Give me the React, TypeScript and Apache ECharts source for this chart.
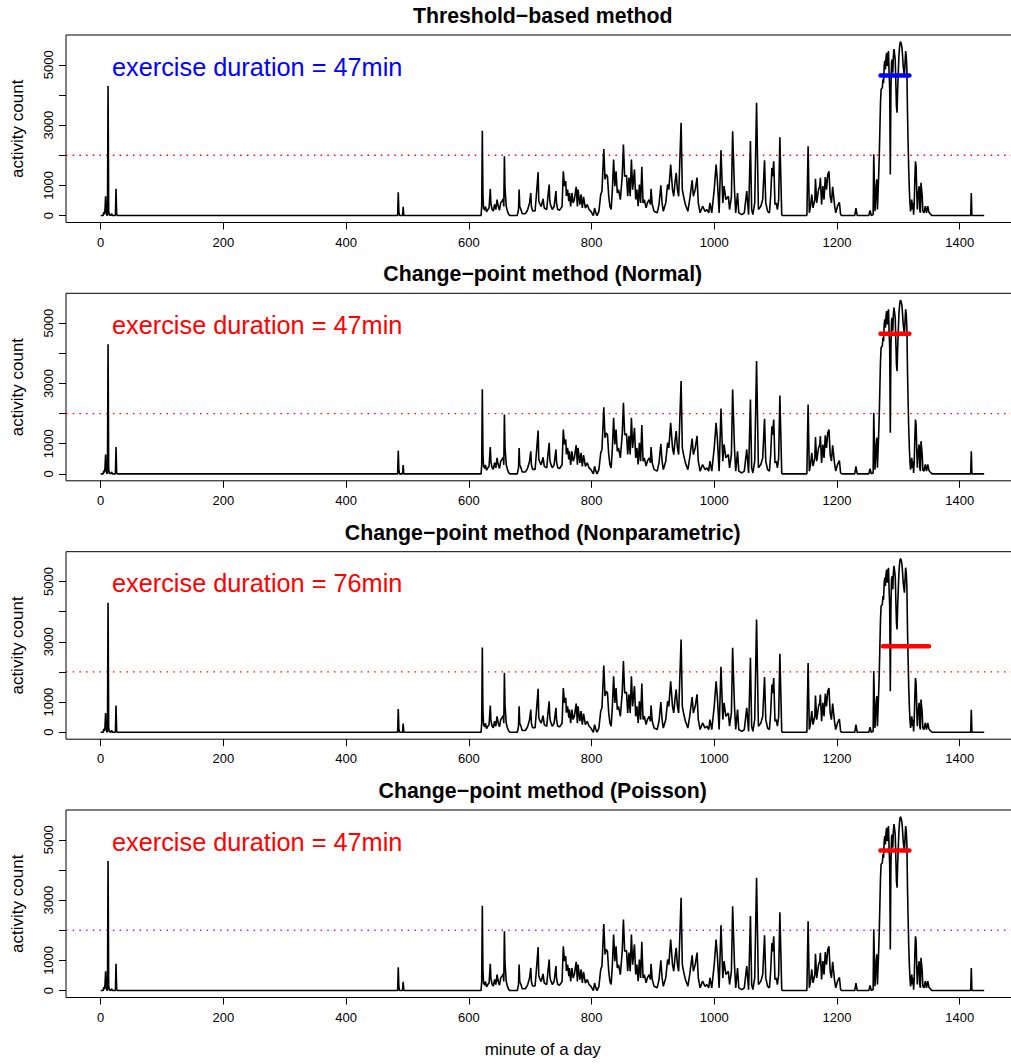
import React, { useEffect, useRef } from "react";
import * as echarts from "echarts";

// ---- data ----
const activityPoints: [number, number][] = [
  [0,0],[4,0],[5,110],[6,40],[7,200],[8,640],[9,90],[10,20],[11,0],[12,4300],[13,150],[14,30],[16,0],[18,60],[19,0],[24,0],[25,890],[26,50],[27,0],
  [484,0],[485,770],[486,120],[487,0],[492,0],[493,290],[494,0],
  [620,0],[621,300],[622,2810],[623,700],[624,250],[626,180],[627,300],[629,120],[631,200],[633,250],[635,890],[636,400],[638,200],[640,150],[642,370],[644,200],[646,530],[648,300],[650,180],[652,420],[654,480],[656,550],[657,300],[658,1970],[659,900],[661,300],[663,140],[665,40],[667,0],
  [679,0],[681,200],[682,860],[683,300],[685,200],[687,60],[692,60],[695,150],[696,200],[699,420],[701,750],[702,300],[704,150],[708,150],[710,650],[713,1440],[714,500],[715,420],[718,300],[721,550],[723,250],[727,200],[729,650],[731,1030],[732,500],[733,365],[736,200],[739,300],[742,810],[743,400],[745,200],[748,180],[752,300],[754,1470],[756,975],[758,1140],[759,650],[761,860],[763,480],[764,750],[766,300],[768,750],[770,420],[772,530],[775,950],[777,300],[778,860],[781,365],[783,700],[785,250],[787,620],[790,250],[793,365],[796,200],[799,140],[803,0],[805,250],[807,90],[809,0],[812,140],[815,700],[817,810],[820,2210],[822,1200],[824,1360],[826,1300],[828,650],[830,300],[832,200],[834,860],[836,1860],[838,975],[840,1470],[842,750],[844,860],[845,750],[847,530],[850,1300],[852,2360],[854,1300],[857,1330],[859,640],[861,1260],[863,640],[865,1860],[867,860],[870,1530],[872,530],[874,860],[876,310],[878,1030],[880,420],[882,1620],[884,420],[886,530],[889,255],[891,420],[894,530],[896,365],[897,890],[899,365],[902,140],[907,90],[910,365],[913,1000],[915,420],[917,140],[921,420],[924,1030],[926,860],[929,1690],[932,860],[934,640],[936,1085],[938,1420],[940,860],[942,640],[946,3080],[948,860],[950,640],[953,365],[957,140],[960,530],[964,1170],[966,640],[969,860],[972,1260],[974,420],[977,90],[981,310],[985,140],[988,200],[991,90],[993,420],[996,90],[1000,860],[1003,1690],[1005,1200],[1008,90],[1011,2170],[1014,420],[1016,975],[1019,530],[1023,640],[1025,200],[1028,640],[1030,2800],[1033,860],[1035,90],[1038,750],[1040,90],[1045,30],[1049,90],[1053,810],[1056,30],[1059,2470],[1061,200],[1063,30],[1066,420],[1069,3740],[1072,200],[1076,310],[1079,530],[1082,1830],[1084,420],[1087,140],[1090,90],[1092,640],[1094,1580],[1095,1300],[1097,1800],[1099,365],[1101,420],[1103,200],[1105,530],[1107,2600],[1110,30],[1111,0],
  [1151,0],[1153,2300],[1155,90],[1157,310],[1159,700],[1161,255],[1164,530],[1165,1220],[1167,420],[1170,860],[1172,975],[1173,1250],[1175,365],[1177,975],[1179,530],[1181,1280],[1183,860],[1185,1360],[1187,1470],[1189,640],[1191,420],[1193,950],[1196,365],[1198,90],[1201,310],[1204,440],[1206,30],[1208,0],
  [1229,0],[1231,250],[1233,0],[1252,0],[1254,170],[1256,0],[1259,30],[1260,2030],[1262,140],[1264,975],[1265,1200],[1266,200],[1268,1300],[1269,1970],[1270,2860],[1271,3740],[1272,4190],[1274,4240],[1275,4520],[1276,4400],[1277,4960],[1278,5130],[1279,4850],[1280,5240],[1281,5400],[1282,4960],[1283,5180],[1284,5460],[1285,4740],[1286,4190],[1287,1360],[1288,4190],[1289,5070],[1290,5180],[1291,4740],[1292,5290],[1293,5520],[1295,5180],[1296,4400],[1297,3630],[1298,3410],[1299,4190],[1300,4740],[1301,5290],[1302,5570],[1303,5740],[1304,5760],[1305,5680],[1306,5570],[1307,5290],[1308,4960],[1310,4630],[1311,5070],[1312,5460],[1313,5290],[1314,4850],[1315,3410],[1316,2410],[1317,1530],[1318,860],[1319,420],[1320,140],[1322,530],[1323,200],[1324,420],[1325,30],[1326,420],[1327,1200],[1328,1800],[1329,1640],[1330,860],[1331,200],[1332,640],[1334,975],[1335,200],[1336,90],[1337,1085],[1338,860],[1339,640],[1340,140],[1342,90],[1344,310],[1346,90],[1348,310],[1350,110],[1352,60],[1355,0],
  [1418,0],[1419,750],[1420,0],[1440,0],
];

const panelTitles = [
  "Threshold\u2212based method",
  "Change\u2212point method (Normal)",
  "Change\u2212point method (Nonparametric)",
  "Change\u2212point method (Poisson)",
];
const durationLabels = [
  "exercise duration = 47min",
  "exercise duration = 47min",
  "exercise duration = 76min",
  "exercise duration = 47min",
];
// [start minute, end minute, level]
const exerciseSegments: [number, number, number][] = [
  [1271, 1318, 4650],
  [1271, 1318, 4650],
  [1275, 1350, 2850],
  [1271, 1318, 4650],
];
const segmentColors = ["#0000FF", "#FF0000", "#FF0000", "#FF0000"];
const thresholdColors = ["#FF0000", "#FF0000", "#FF0000", "#A020F0"];
const thresholdValue = 2000;

const xTicks = [0, 200, 400, 600, 800, 1000, 1200, 1400];
const yTicks = [0, 1000, 2000, 3000, 4000, 5000];
const yTickLabels = [0, 1000, 3000, 5000];

// ---- axis ranges (R-style 4% padding around the data range) ----
const xs = activityPoints.map((p) => p[0]);
const ys = activityPoints.map((p) => p[1]);
const xDataMin = 1;
const xDataMax = Math.max(...xs);
const yDataMin = Math.min(...ys);
const yDataMax = Math.max(...ys);
const X_MIN = xDataMin - 0.04 * (xDataMax - xDataMin);
const X_MAX = xDataMax + 0.04 * (xDataMax - xDataMin);
const Y_MIN = yDataMin - 0.04 * (yDataMax - yDataMin);
const Y_MAX = yDataMax + 0.04 * (yDataMax - yDataMin);

// ---- layout ----
const FONT = "Liberation Sans, Arial, Helvetica, sans-serif";
const W = 1011;
const PANEL_TOPS = [35, 293.3, 551.7, 810];
const PANEL_H = 187.5;
const GRID_LEFT = 66;
const GRID_WIDTH = 953.5; // plot region runs past the picture's right edge

export default function App() {
  const ref = useRef<HTMLDivElement>(null);
  useEffect(() => {
    if (!ref.current) return;
    const chart = echarts.init(ref.current, undefined, { renderer: "svg" });

    const grid = PANEL_TOPS.map((top) => ({
      left: GRID_LEFT,
      width: GRID_WIDTH,
      top,
      height: PANEL_H,
      outerBoundsMode: "none",
      containLabel: false,
      show: true,
      borderColor: "#000",
      borderWidth: 1,
      backgroundColor: "transparent",
    }));

    const fmt = (v: number) => String(Math.round(v));

    const xAxis = PANEL_TOPS.map((_, i) => ({
      type: "value",
      gridIndex: i,
      min: X_MIN,
      max: X_MAX,
      axisLine: { show: false, onZero: false },
      splitLine: { show: false },
      axisTick: { show: true, length: 7, lineStyle: { color: "#000", width: 1 }, customValues: xTicks },
      axisLabel: {
        show: true,
        customValues: xTicks,
        formatter: fmt,
        color: "#000",
        fontFamily: FONT,
        fontSize: 13,
        margin: 13,
      },
    }));

    const yAxis = PANEL_TOPS.map((_, i) => ({
      type: "value",
      gridIndex: i,
      min: Y_MIN,
      max: Y_MAX,
      axisLine: { show: false, onZero: false },
      splitLine: { show: false },
      axisTick: { show: true, length: 7, lineStyle: { color: "#000", width: 1 }, customValues: yTicks },
      axisLabel: {
        show: true,
        customValues: yTickLabels,
        formatter: fmt,
        rotate: 90,
        color: "#000",
        fontFamily: FONT,
        fontSize: 13,
        margin: 11,
      },
    }));

    const series: any[] = [];
    PANEL_TOPS.forEach((_, i) => {
      // threshold reference line across the whole panel
      series.push({
        type: "line",
        xAxisIndex: i,
        yAxisIndex: i,
        data: [
          [X_MIN, thresholdValue],
          [X_MAX, thresholdValue],
        ],
        showSymbol: false,
        symbol: "none",
        silent: true,
        lineStyle: { type: [1.5, 5.2], color: thresholdColors[i], width: 1.3 },
        z: 2,
      });
      series.push({
        type: "line",
        xAxisIndex: i,
        yAxisIndex: i,
        data: activityPoints,
        showSymbol: false,
        symbol: "none",
        lineStyle: { color: "#000", width: 1.6 },
        z: 3,
      });
      const seg = exerciseSegments[i];
      series.push({
        type: "line",
        xAxisIndex: i,
        yAxisIndex: i,
        data: [
          [seg[0], seg[2]],
          [seg[1], seg[2]],
        ],
        showSymbol: false,
        symbol: "none",
        lineStyle: { color: segmentColors[i], width: 4.5, cap: "round" },
        z: 5,
      });
    });

    const graphic: any[] = [];
    const centerX = GRID_LEFT + GRID_WIDTH / 2;
    PANEL_TOPS.forEach((top, i) => {
      graphic.push({
        type: "text",
        x: centerX,
        y: top - 19,
        style: {
          text: panelTitles[i],
          font: `bold 21.3px ${FONT}`,
          fill: "#000",
          align: "center",
          verticalAlign: "middle",
        },
      });
      graphic.push({
        type: "text",
        x: 17.5,
        y: top + PANEL_H / 2,
        rotation: Math.PI / 2,
        style: {
          text: "activity count",
          font: `17px ${FONT}`,
          fill: "#000",
          align: "center",
          verticalAlign: "middle",
        },
      });
      graphic.push({
        type: "text",
        x: 112,
        y: top + 31.5,
        style: {
          text: durationLabels[i],
          font: `25.3px ${FONT}`,
          fill: segmentColors[i],
          align: "left",
          verticalAlign: "middle",
        },
      });
    });
    graphic.push({
      type: "text",
      x: centerX,
      y: 1049,
      style: {
        text: "minute of a day",
        font: `17px ${FONT}`,
        fill: "#000",
        align: "center",
        verticalAlign: "middle",
      },
    });

    chart.setOption({
      animation: false,
      backgroundColor: "#fff",
      grid,
      xAxis,
      yAxis,
      series,
      graphic,
    });
    return () => chart.dispose();
  }, []);

  return <div ref={ref} style={{ width: W, height: 1064, position: "absolute", left: 0, top: 0, overflow: "hidden" }} />;
}
